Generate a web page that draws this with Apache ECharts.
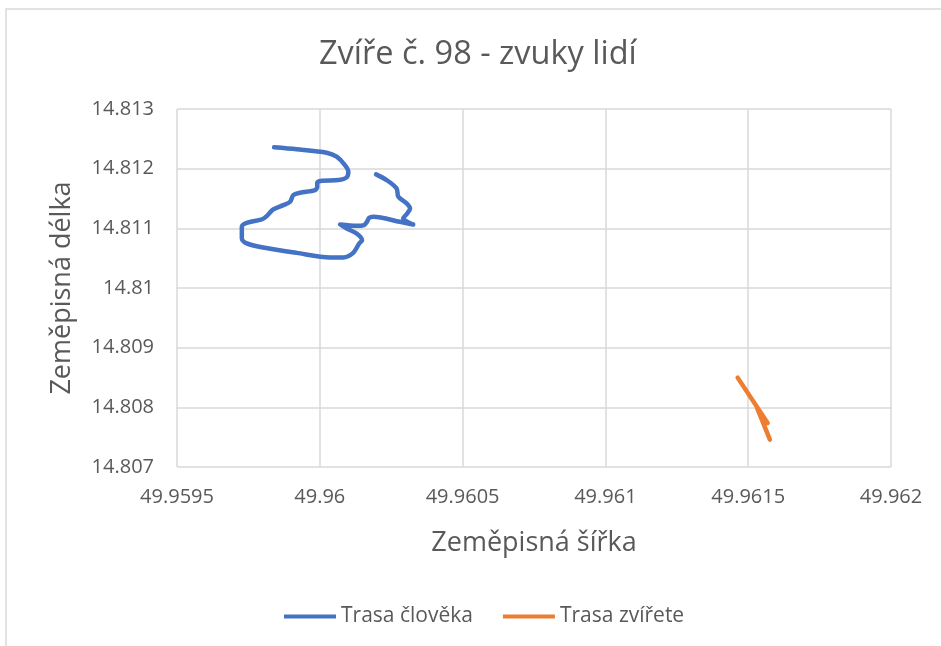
<!DOCTYPE html>
<html>
<head>
<meta charset="utf-8">
<script src="https://cdn.jsdelivr.net/npm/echarts@6/dist/echarts.min.js"></script>
<style>html,body{margin:0;padding:0;background:#fff}#c{width:941px;height:646px}</style>
</head>
<body>
<div id="c"></div>
<script>
const titleText = 'Zvíře č. 98 - zvuky lidí';
const xName = 'Zeměpisná šířka';
const yName = 'Zeměpisná délka';
const seriesNames = ['Trasa člověka', 'Trasa zvířete'];

const humanLat = [49.959840, 49.959919, 49.960024, 49.960059, 49.960088, 49.960100, 49.960094, 49.960065, 49.960007, 49.959991, 49.959991, 49.959983, 49.959931, 49.959907, 49.959896, 49.959872, 49.959837, 49.959814, 49.959797, 49.959744, 49.959727, 49.959727, 49.959744, 49.959802, 49.959919, 49.960036, 49.960082, 49.960117, 49.960138, 49.960148, 49.960129, 49.960094, 49.960071, 49.960129, 49.960155, 49.960165, 49.960173, 49.960187, 49.960281, 49.960327, 49.960292, 49.960306, 49.960316, 49.960304, 49.960275, 49.960269, 49.960234, 49.960197];
const humanLon = [14.812357, 14.812324, 14.812267, 14.812200, 14.812060, 14.811948, 14.811854, 14.811809, 14.811797, 14.811763, 14.811696, 14.811641, 14.811596, 14.811557, 14.811445, 14.811389, 14.811317, 14.811205, 14.811149, 14.811092, 14.811025, 14.810830, 14.810747, 14.810679, 14.810589, 14.810512, 14.810512, 14.810589, 14.810747, 14.810802, 14.810914, 14.810998, 14.811065, 14.811042, 14.811054, 14.811109, 14.811176, 14.811193, 14.811109, 14.811065, 14.811166, 14.811250, 14.811334, 14.811418, 14.811528, 14.811669, 14.811809, 14.811904];

const animalLat = [49.961463, 49.961568, 49.961530, 49.961576];
const animalLon = [14.808498, 14.807736, 14.808005, 14.807458];

const xMin = 49.9595, xMax = 49.962, xStep = 0.0005;
const yMin = 14.807, yMax = 14.813, yStep = 0.001;

const zip = (a, b) => a.map((v, i) => [v, b[i]]);
const FONT = "'Open Sans', 'Noto Sans', sans-serif";
const GRAY = '#595959';
const GRID = '#d9d9d9';

const chart = echarts.init(document.getElementById('c'), null, {renderer: 'canvas'});
chart.setOption({
  animation: false,
  backgroundColor: '#ffffff',
  graphic: [{
    type: 'rect', silent: true, z: -10,
    shape: {x: 6, y: 9, width: 1000, height: 700},
    style: {fill: 'none', stroke: GRID, lineWidth: 1.5}
  }],
  title: {
    text: titleText, left: 319, top: 38, padding: 0,
    textStyle: {fontFamily: FONT, fontSize: 32.5, fontWeight: 'normal', color: GRAY}
  },
  legend: {
    left: 284, top: 606, padding: 0, itemGap: 30, itemWidth: 52, itemHeight: 4, icon: 'rect',
    textStyle: {fontFamily: FONT, fontSize: 21, color: GRAY}
  },
  grid: {left: 177, top: 109, width: 714, height: 358, containLabel: false},
  xAxis: {
    type: 'value', min: xMin, max: xMax, interval: xStep,
    name: xName, nameLocation: 'middle', nameGap: 63,
    nameTextStyle: {fontFamily: FONT, fontSize: 27, color: GRAY},
    axisLine: {show: false}, axisTick: {show: false},
    axisLabel: {margin: 20, fontFamily: FONT, fontSize: 20, color: GRAY,
      formatter: v => String(parseFloat(v.toFixed(4)))},
    splitLine: {show: true, lineStyle: {color: GRID, width: 1.5}}
  },
  yAxis: {
    type: 'value', min: yMin, max: yMax, interval: yStep,
    name: yName, nameLocation: 'middle', nameGap: 101, nameRotate: 90,
    nameTextStyle: {fontFamily: FONT, fontSize: 27, color: GRAY},
    axisLine: {show: false}, axisTick: {show: false},
    axisLabel: {margin: 23, fontFamily: FONT, fontSize: 20, color: GRAY,
      formatter: v => String(parseFloat(v.toFixed(3)))},
    splitLine: {show: true, lineStyle: {color: GRID, width: 1.5}}
  },
  series: [
    {name: seriesNames[0], type: 'line', data: zip(humanLat, humanLon), smooth: 0.3,
     showSymbol: false, symbol: 'none', color: '#4472C4',
     lineStyle: {width: 4.5, color: '#4472C4', cap: 'round', join: 'round'}},
    {name: seriesNames[1], type: 'line', data: zip(animalLat, animalLon), smooth: 0.1,
     showSymbol: false, symbol: 'none', color: '#ED7D31',
     lineStyle: {width: 4.5, color: '#ED7D31', cap: 'round', join: 'round'}}
  ]
});
</script>
</body>
</html>
